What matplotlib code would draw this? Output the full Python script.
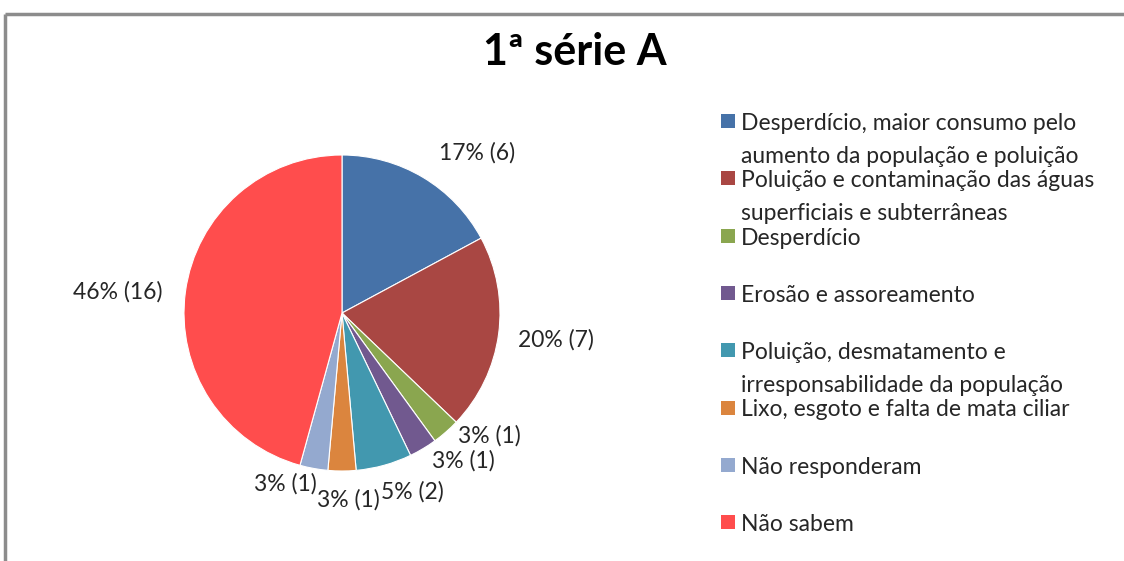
import matplotlib.pyplot as plt
from matplotlib.patches import Rectangle

plt.rcParams['font.family'] = ['Lato', 'DejaVu Sans']

title = "1ª série A"
categories = [
    "Desperdício, maior consumo pelo\naumento da população e poluição",
    "Poluição e contaminação das águas\nsuperficiais e subterrâneas",
    "Desperdício",
    "Erosão e assoreamento",
    "Poluição, desmatamento e\nirresponsabilidade da população",
    "Lixo, esgoto e falta de mata ciliar",
    "Não responderam",
    "Não sabem",
]
counts = [6, 7, 1, 1, 2, 1, 1, 16]
percent_labels = ["17%", "20%", "3%", "3%", "5%", "3%", "3%", "46%"]
colors = ["#4672A8", "#A94743", "#8AA64F", "#71598F",
          "#4298AF", "#DB853E", "#94A9CF", "#FF4D4D"]

# label positions in units of the pie radius, relative to the centre
label_pos = [(0.854, 1.013), (1.354, -0.171), (0.930, -0.778), (0.766, -0.937),
             (0.443, -1.133), (0.038, -1.184), (-0.361, -1.082), (-1.418, 0.133)]

W, H = 1124, 561
fig = plt.figure(figsize=(W / 100, H / 100), dpi=100)
ax = fig.add_axes([0, 0, 1, 1])

cx, cy, r = 342, H - 313, 158
ax.pie(counts, colors=colors, startangle=90, counterclock=False,
       center=(cx, cy), radius=r, frame=True,
       wedgeprops=dict(linewidth=0.8, edgecolor="white"))
ax.set_xlim(0, W)
ax.set_ylim(0, H)
ax.set_aspect("auto")
ax.axis("off")

for (px, py), pct, n in zip(label_pos, percent_labels, counts):
    ax.text(cx + px * r, cy + py * r, f"{pct} ({n})", ha="center", va="center",
            fontsize=16.5, color="#262626")

# legend drawn as fixed slots, text hanging from the top of each slot
slot = 57.3
for i, (lab, col) in enumerate(zip(categories, colors)):
    y0 = H - (121 + slot * i)
    ax.add_patch(Rectangle((721, y0 - 7), 14, 14, facecolor=col, edgecolor="none"))
    ax.text(741, y0 + 8, lab, ha="left", va="top", fontsize=16.5,
            color="#262626", linespacing=1.68)

ax.text(575, H - 52, title, ha="center", va="center", fontsize=31,
        fontweight="bold", color="black")

# chart frame (top and left edges visible)
ax.plot([5, W], [H - 14, H - 14], color="#8c8c8c", lw=2.5, solid_capstyle="butt")
ax.plot([5, 5], [0, H - 14], color="#8c8c8c", lw=2.5, solid_capstyle="butt")

fig.savefig("out.png", dpi=100)
